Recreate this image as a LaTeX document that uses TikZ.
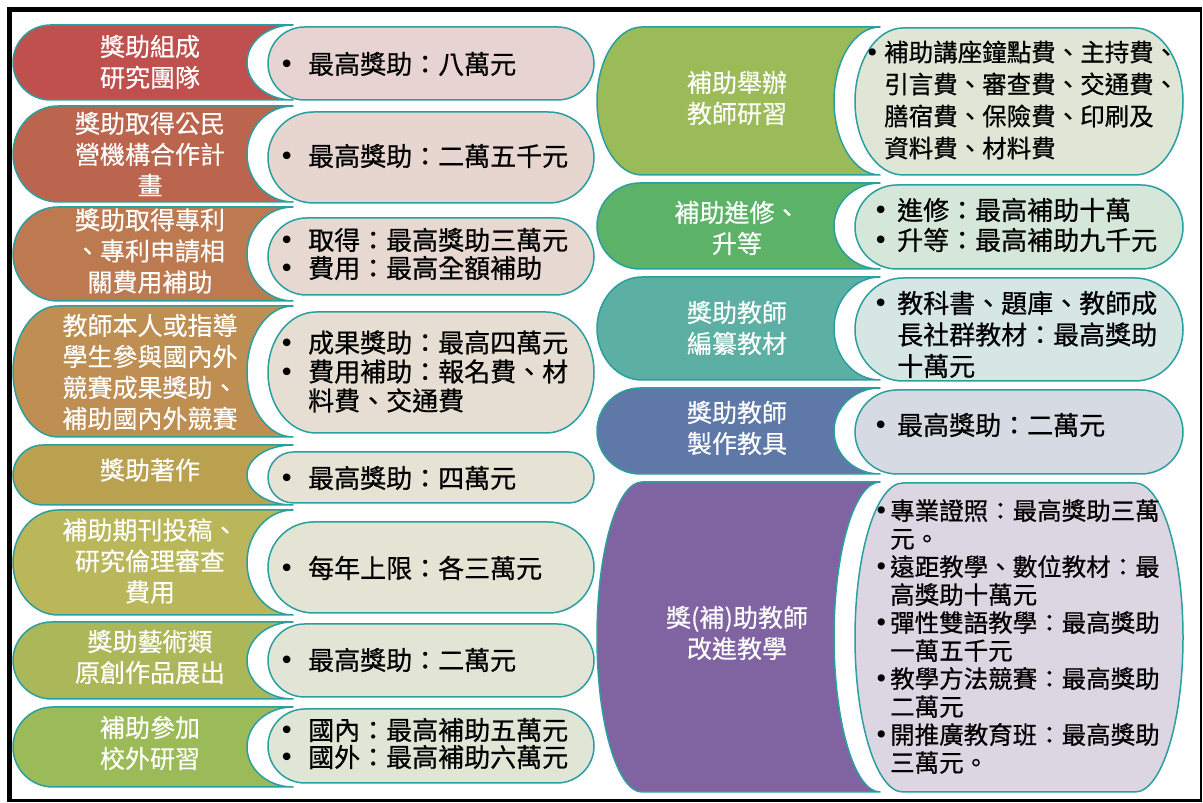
\documentclass[tikz,border=0pt]{standalone}
\usepackage{fontspec}
\setmainfont{Noto Sans CJK TC}
\newfontfamily\pfont[FakeBold=0.6]{Noto Sans CJK TC}
\newfontfamily\lfont[FakeBold=0.3]{Noto Sans CJK TC}
\newfontfamily\dvs{DejaVu Sans}
\definecolor{tealc}{HTML}{2A9FA0}
\definecolor{ca}{HTML}{C0504D}\definecolor{pa}{HTML}{E6D3D2}
\definecolor{cb}{HTML}{BB654E}\definecolor{pb}{HTML}{E7D5D0}
\definecolor{cc}{HTML}{BD7A50}\definecolor{pc}{HTML}{E7D9D1}
\definecolor{cd}{HTML}{BE8E52}\definecolor{pd}{HTML}{E7DED3}
\definecolor{ce}{HTML}{B9A150}\definecolor{pe}{HTML}{E6E2D4}
\definecolor{cf}{HTML}{B9B75A}\definecolor{pf}{HTML}{E4E4D5}
\definecolor{cg}{HTML}{ABB85A}\definecolor{pg}{HTML}{E2E5D5}
\definecolor{ch}{HTML}{9BBB59}\definecolor{ph}{HTML}{DFE6D5}
\definecolor{ra}{HTML}{9BBB59}\definecolor{qa}{HTML}{DFE6D5}
\definecolor{rb}{HTML}{5CB368}\definecolor{qb}{HTML}{D5E7D9}
\definecolor{rc}{HTML}{5BB0A3}\definecolor{qc}{HTML}{D5E6E3}
\definecolor{rd}{HTML}{5E78A8}\definecolor{qd}{HTML}{D6DAE3}
\definecolor{re}{HTML}{8064A2}\definecolor{qe}{HTML}{DCD6E3}
\newcommand\fsz[2]{\fontsize{#1}{#2}\selectfont}
\newcommand\bu[1]{\makebox[#1pt][l]{\dvs •}}
\newcommand\ind[1]{\hspace*{#1pt}}
\tikzset{
  outl/.style={draw=tealc, line width=1.5pt, line join=round},
  lbl/.style={text=white, align=center, inner sep=0pt, font=\lfont\fsz{25}{31}},
  ptx/.style={anchor=west, align=left, inner sep=0pt, text=black}
}
% left label shape: L, R, top, bottom, colour
\newcommand\LShp[5]{%
  \pgfmathsetmacro\hh{(#4-#3)/2}%
  \pgfmathsetmacro\rxx{min(\hh,45)}%
  \pgfmathsetmacro\TT{803-#3}%
  \pgfmathsetmacro\BB{803-#4}%
  \draw[outl, fill=#5] (#2,\TT) -- (#1+\rxx,\TT)
    arc[start angle=90, end angle=270, x radius=\rxx pt, y radius=\hh pt]
    -- (#2,\BB)
    arc[start angle=270, end angle=90, x radius=46pt, y radius=\hh pt] -- cycle;
}
% pill: x1, x2, top, bottom, colour
\newcommand\PillShp[5]{%
  \pgfmathsetmacro\hh{(#4-#3)/2}%
  \pgfmathsetmacro\rxx{min(\hh,48)}%
  \pgfmathsetmacro\TT{803-#3}%
  \pgfmathsetmacro\BB{803-#4}%
  \draw[outl, fill=#5] (#1+\rxx,\TT)
    arc[start angle=90, end angle=270, x radius=\rxx pt, y radius=\hh pt]
    -- (#2-\rxx,\BB)
    arc[start angle=270, end angle=450, x radius=\rxx pt, y radius=\hh pt] -- cycle;
}
\begin{document}
\begin{tikzpicture}[x=1pt,y=1pt]
\useasboundingbox (0,0) rectangle (1203,803);
\fill[white] (0,0) rectangle (1203,803);
% frame
\fill[black] (7,803-7) rectangle (1202,803-12);
\fill[black] (7,803-7) rectangle (12,803-802);
\fill[black] (1199.5,803-7) rectangle (1202,803-802);
\fill[black] (7,803-799.5) rectangle (1202,803-802);

% left column shapes
\LShp{13}{293}{25}{100}{ca}
\LShp{13}{293}{106}{202}{cb}
\LShp{13}{293}{207}{301}{cc}
\LShp{13}{293}{306}{437}{cd}
\LShp{13}{293}{445}{505}{ce}
\LShp{13}{293}{510}{615}{cf}
\LShp{13}{293}{622}{699}{cg}
\LShp{13}{293}{707}{787}{ch}
\PillShp{268}{594}{27}{100}{pa}
\PillShp{268}{594}{112}{203}{pb}
\PillShp{268}{594}{218}{295}{pc}
\PillShp{268}{594}{312}{433}{pd}
\PillShp{268}{594}{452}{503}{pe}
\PillShp{268}{594}{522}{613}{pf}
\PillShp{268}{594}{624}{697}{pg}
\PillShp{268}{594}{709}{783}{ph}

% right column shapes
\LShp{597}{880}{27}{175}{ra}
\LShp{597}{880}{183}{269}{rb}
\LShp{597}{880}{277}{380}{rc}
\LShp{597}{880}{388}{474}{rd}
\LShp{597}{880}{482}{792}{re}
\PillShp{855}{1183}{28}{175}{qa}
\PillShp{855}{1183}{185}{269}{qb}
\PillShp{855}{1183}{278}{381}{qc}
\PillShp{855}{1183}{390}{474}{qd}
\PillShp{855}{1183}{483}{792}{qe}

% left labels
\node[lbl] (la) at (150,803-62) {獎助組成\\研究團隊};
\node[lbl] (lb) at (150,803-154) {獎助取得公民\\營機構合作計\\畫};
\node[lbl] (lc) at (150,803-251) {獎助取得專利\\、專利申請相\\關費用補助};
\node[lbl] (ld) at (150,803-372) {教師本人或指導\\學生參與國內外\\競賽成果獎助、\\補助國內外競賽};
\node[lbl] (le) at (150,803-470) {獎助著作};
\node[lbl] (lf) at (150,803-561) {補助期刊投稿、\\研究倫理審查\\費用};
\node[lbl] (lg) at (150,803-657) {獎助藝術類\\原創作品展出};
\node[lbl] (lh) at (150,803-743) {補助參加\\校外研習};
% right labels
\node[lbl] (ra) at (737,803-98) {補助舉辦\\教師研習};
\node[lbl] (rb) at (737,803-228) {補助進修、\\升等};
\node[lbl] (rc) at (737,803-328) {獎助教師\\編纂教材};
\node[lbl] (rd) at (737,803-428) {獎助教師\\製作教具};
\node[lbl] (re) at (737,803-633) {獎(補)助教師\\改進教學};

% left pill texts
\node[ptx, font=\pfont\fsz{26}{30}] (pa) at (279,803-64) {\bu{29}最高獎助：八萬元};
\node[ptx, font=\pfont\fsz{26}{30}] (pb) at (279,803-156) {\bu{29}最高獎助：二萬五千元};
\node[ptx, font=\pfont\fsz{26}{28}] (pc) at (279,803-254) {\bu{29}取得：最高獎助三萬元\\\bu{29}費用：最高全額補助};
\node[ptx, font=\pfont\fsz{26}{29}] (pd) at (279,803-371.5) {\bu{29}成果獎助：最高四萬元\\\bu{29}費用補助：報名費、材\\\ind{29}料費、交通費};
\node[ptx, font=\pfont\fsz{26}{30}] (pe) at (279,803-478) {\bu{29}最高獎助：四萬元};
\node[ptx, font=\pfont\fsz{26}{30}] (pf) at (279,803-568) {\bu{29}每年上限：各三萬元};
\node[ptx, font=\pfont\fsz{26}{30}] (pg) at (279,803-660) {\bu{29}最高獎助：二萬元};
\node[ptx, font=\pfont\fsz{26}{27}] (ph) at (279,803-743.5) {\bu{29}國內：最高補助五萬元\\\bu{29}國外：最高補助六萬元};
% right pill texts
\node[ptx, font=\pfont\fsz{24.5}{32}] (qa) at (865,803-100) {\bu{19}補助講座鐘點費、主持費、\\\ind{19}引言費、審查費、交通費、\\\ind{19}膳宿費、保險費、印刷及\\\ind{19}資料費、材料費};
\node[ptx, font=\pfont\fsz{26}{30}] (qb) at (873,803-225) {\bu{24}進修：最高補助十萬\\\bu{24}升等：最高補助九千元};
\node[ptx, font=\pfont\fsz{26}{31.5}] (qc) at (873,803-334.5) {\bu{24}教科書、題庫、教師成\\\ind{24}長社群教材：最高獎助\\\ind{24}十萬元};
\node[ptx, font=\pfont\fsz{26}{30}] (qd) at (873,803-425) {\bu{24}最高獎助：二萬元};
\node[ptx, font=\pfont\fsz{24.5}{28}] (qe) at (874,803-636.5) {\bu{16}專業證照：最高獎助三萬\\\ind{16}元。\\\bu{16}遠距教學、數位教材：最\\\ind{16}高獎助十萬元\\\bu{16}彈性雙語教學：最高獎助\\\ind{16}一萬五千元\\\bu{16}教學方法競賽：最高獎助\\\ind{16}二萬元\\\bu{16}開推廣教育班：最高獎助\\\ind{16}三萬元。};
\end{tikzpicture}
\end{document}
